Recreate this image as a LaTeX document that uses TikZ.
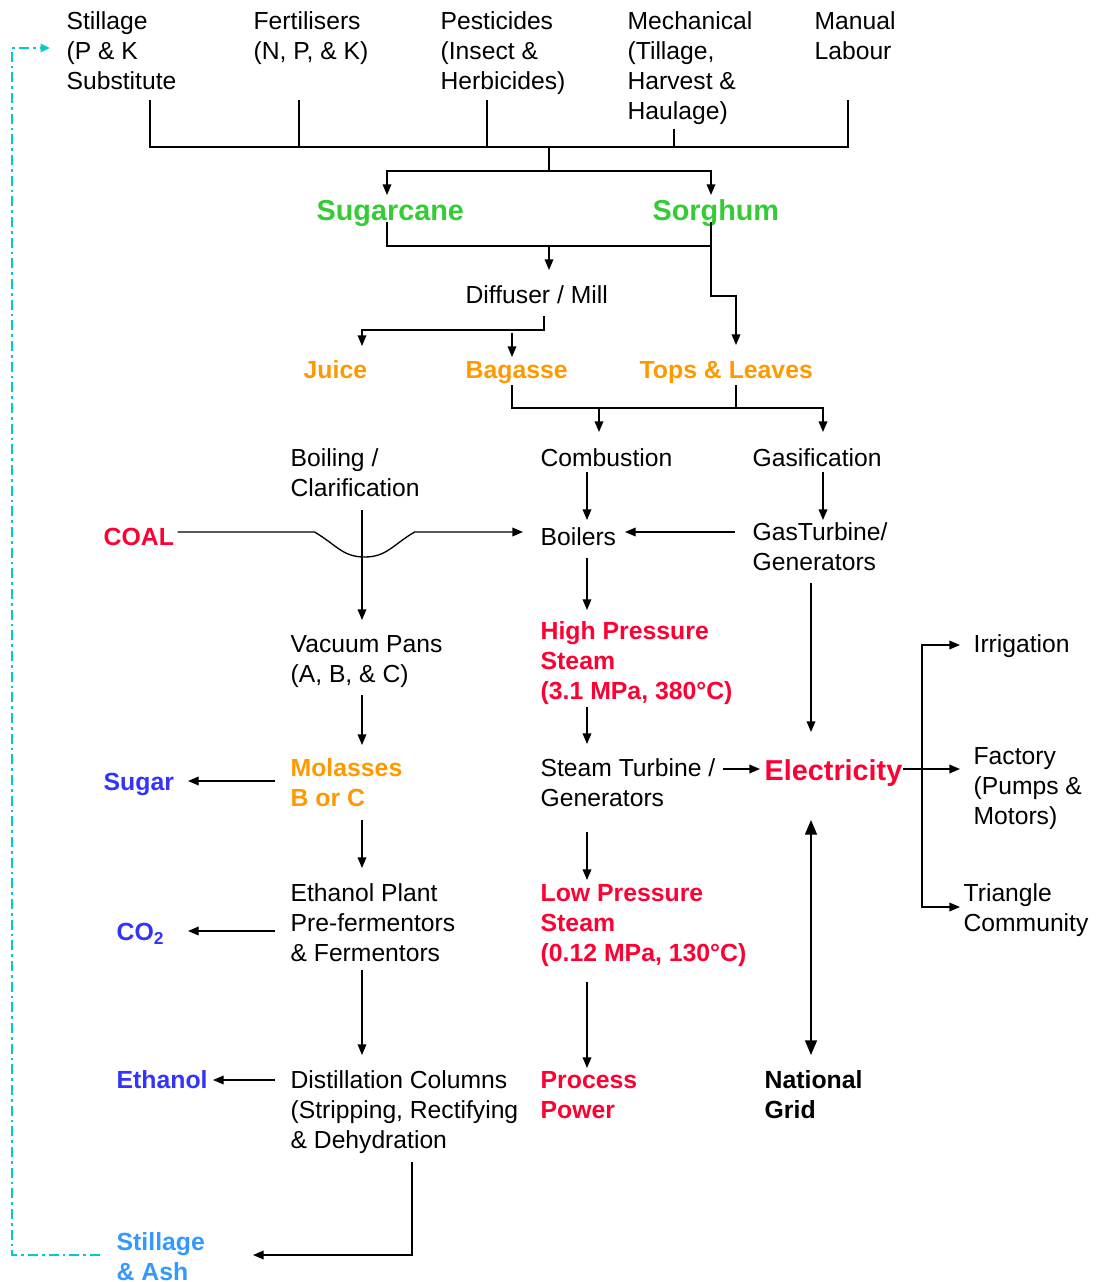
\documentclass[tikz,border=0pt]{standalone}
\usepackage{fontspec}
\setmainfont{Liberation Sans}
\usepackage{xcolor}
\usepackage{tikz}
\usetikzlibrary{arrows.meta, calc}
\definecolor{greenC}{RGB}{51,204,51}
\definecolor{orangeC}{RGB}{255,153,0}
\definecolor{redC}{RGB}{255,0,51}
\definecolor{blueC}{RGB}{51,51,255}
\definecolor{skyC}{RGB}{51,153,255}
\definecolor{cyanC}{RGB}{0,204,204}
\tikzset{
  txt/.style={anchor=base west, inner sep=0pt, align=left,
    font=\fontsize{18.5}{22.5}\selectfont},
  part/.style={txt, font=\fontsize{18.6}{22.5}\selectfont\bfseries, text=orangeC},
  hot/.style={part, text=redC},
  prod/.style={part, text=blueC},
  ash/.style={part, text=skyC},
  gridtxt/.style={part, text=black},
  crop/.style={txt, font=\fontsize{21.6}{26}\selectfont\bfseries, text=greenC},
  elec/.style={crop, text=redC},
  arr/.style={-{Triangle[length=8pt,width=6.5pt]}},
  arrboth/.style={{Triangle[length=8pt,width=6.5pt]}-{Triangle[length=8pt,width=6.5pt]}},
  dbl/.style={{Triangle[length=11pt,width=9pt]}-{Triangle[length=11pt,width=9pt]}},
  recycle/.style={cyanC, line width=1.7pt, dash pattern=on 7.5pt off 3pt on 2pt off 3pt,
    -{Triangle[length=7pt,width=6pt]}}
}
\begin{document}
\begin{tikzpicture}[x=0.75pt, y=-0.75pt, line width=1pt]
\useasboundingbox (0,0) rectangle (1100,1282);
% inputs (nodes sit on the baseline of their last line)
\node[txt] (still) at (66,89)  {Stillage\\(P \& K\\Substitute};
\node[txt] (fert)  at (253,59) {Fertilisers\\(N, P, \& K)};
\node[txt] (pest)  at (440,89) {Pesticides\\(Insect \&\\Herbicides)};
\node[txt] (mech)  at (627,119) {Mechanical\\(Tillage,\\Harvest \&\\Haulage)};
\node[txt] (man)   at (814,59) {Manual\\Labour};
% crops
\node[crop] (cane) at (316,220) {Sugarcane};
\node[crop] (sorg) at (652,220) {Sorghum};
\node[txt] (mill)  at (465,303) {Diffuser / Mill};
\node[part] (juice) at (303,378) {Juice};
\node[part] (bag)   at (465,378) {Bagasse};
\node[part] (tops)  at (639,378) {Tops \& Leaves};
% processing
\node[txt] (boil)    at (290,496) {Boiling /\\Clarification};
\node[txt] (comb)    at (540,466) {Combustion};
\node[txt] (gasif)   at (752,466) {Gasification};
\node[hot] (coal)    at (103,545) {COAL};
\node[txt] (boilers) at (540,545) {Boilers};
\node[txt] (gasturb) at (752,570) {GasTurbine/\\Generators};
\node[txt] (vac)     at (290,682) {Vacuum Pans\\(A, B, \& C)};
\node[hot] (hps)     at (540,699) {High Pressure\\Steam\\(3.1 MPa, 380°C)};
\node[part] (mol)    at (290,806) {Molasses\\B or C};
\node[prod] (sugar)  at (103,790) {Sugar};
\node[txt] (sturb)   at (540,806) {Steam Turbine /\\Generators};
\node[elec] (elec)   at (764,780) {Electricity};
\node[txt] (irr)     at (973,652) {Irrigation};
\node[txt] (fact)    at (973,824) {Factory\\(Pumps \&\\Motors)};
\node[txt] (tri)     at (963,931) {Triangle\\Community};
\node[txt] (eplant)  at (290,961) {Ethanol Plant\\Pre-fermentors\\\& Fermentors};
\node[prod] (co2)    at (116,940) {CO\textsubscript{2}};
\node[hot] (lps)     at (540,961) {Low Pressure\\Steam\\(0.12 MPa, 130°C)};
\node[prod] (eth)    at (116,1088) {Ethanol};
\node[txt] (dist)    at (290,1148) {Distillation Columns\\(Stripping, Rectifying\\\& Dehydration};
\node[hot] (proc)    at (540,1118) {Process\\Power};
\node[gridtxt] (grid) at (764,1118) {National\\Grid};
\node[ash] (ash)     at (116,1280) {Stillage\\\& Ash};

% input bus
\coordinate (inbus) at (549,147);
\coordinate (cropfork) at (549,171);
\coordinate (millfork) at (549,246);
\draw ($(still.base west)+(84,11)$) -- ++(0,47) -- ($(man.base west)+(34,88)$) -- ($(man.base west)+(34,41)$);
\draw ($(fert.base west)+(46,41)$) -- ++(0,47);
\draw ($(pest.base west)+(47,11)$) -- ++(0,47);
\draw ($(mech.base west)+(47,10)$) -- ++(0,18);
\draw (inbus) -- (cropfork);
\draw[arr] (cropfork) -| ($(cane.base west)+(71,-25)$);
\draw[arr] (cropfork) -| ($(sorg.base west)+(59,-25)$);
% crops to mill
\draw ($(cane.base west)+(71,2)$) |- ($(sorg.base west)+(59,26)$);
\draw[arr] (millfork) -- ($(mill.base west)+(84,-33)$);
\draw[arr] ($(sorg.base west)+(59,2)$) -- ++(0,74) -| ($(tops.base west)+(97,-33)$);
\draw[arr] ($(mill.base west)+(79,13)$) -- ++(0,14) -| ($(juice.base west)+(59,-32)$);
\draw[arr] ($(mill.base west)+(47,30)$) -- ($(bag.base west)+(47,-21)$);
% fibre to energy
\draw[arr] ($(bag.base west)+(47,7)$) |- ($(gasif.base west)+(71,-58)$) -- ($(gasif.base west)+(71,-34)$);
\draw ($(tops.base west)+(97,7)$) -- ++(0,23);
\draw[arr] ($(comb.base west)+(59,-58)$) -- ($(comb.base west)+(59,-34)$);
\draw[arr] ($(comb.base west)+(47,6)$) -- ($(boilers.base west)+(47,-25)$);
\draw[arr] ($(gasif.base west)+(71,6)$) -- ($(gasturb.base west)+(71,-50)$);
\draw[arr] ($(gasturb.base west)+(-17,-38)$) -- ($(boilers.base west)+(85,-13)$);
\draw[arr] ($(coal.base east)+(3,-13)$) -- ++(137,0)
  .. controls +(22,13) and +(-22,0) .. ++(50,25)
  .. controls +(22,0) and +(-22,13) .. ++(50,-25)
  -- ($(boilers.base west)+(-17,-13)$);
% juice line
\draw[arr] ($(boil.base west)+(72,14)$) -- ($(vac.base west)+(72,-62)$);
\draw[arr] ($(vac.base west)+(72,13)$) -- ($(mol.base west)+(72,-61)$);
\draw[arr] ($(mol.base west)+(-15,-25)$) -- ($(sugar.base west)+(85,-9)$);
\draw[arr] ($(mol.base west)+(72,14)$) -- ($(eplant.base west)+(72,-93)$);
\draw[arr] ($(eplant.base west)+(-15,-30)$) -- ($(co2.base west)+(72,-9)$);
\draw[arr] ($(eplant.base west)+(72,9)$) -- ($(dist.base west)+(72,-93)$);
\draw[arr] ($(dist.base west)+(-15,-68)$) -- ($(eth.base west)+(97,-8)$);
\draw[arr] ($(dist.base west)+(122,14)$) |- ($(ash.base west)+(137,-25)$);
% steam line
\draw[arr] ($(boilers.base west)+(47,13)$) -- ($(hps.base west)+(47,-89)$);
\draw[arr] ($(hps.base west)+(47,8)$) -- ($(sturb.base west)+(47,-62)$);
\draw[arr] ($(sturb.base west)+(47,26)$) -- ($(lps.base west)+(47,-81)$);
\draw[arr] ($(lps.base west)+(47,21)$) -- ($(proc.base west)+(47,-50)$);
% electricity
\draw[arr] ($(gasturb.base west)+(59,13)$) -- ($(elec.base west)+(47,-48)$);
\draw[arr] ($(sturb.base west)+(183,-37)$) -- ($(elec.base west)+(-4,-11)$);
\draw[arr] ($(elec.base east)+(0,-11)$) -- ($(fact.base west)+(-13,-55)$);
\draw[arrboth] ($(irr.base west)+(-13,-7)$) -| ($(tri.base west)+(-41,-24)$) -- ($(tri.base west)+(-3,-24)$);
\draw[dbl] ($(elec.base west)+(47,40)$) -- ($(grid.base west)+(47,-63)$);
% stillage recycle
\draw[recycle] ($(ash.base west)+(-16,-25)$) -| ($(still.base west)+(-54,-41)$) -- ($(still.base west)+(-16,-41)$);
\end{tikzpicture}
\end{document}
